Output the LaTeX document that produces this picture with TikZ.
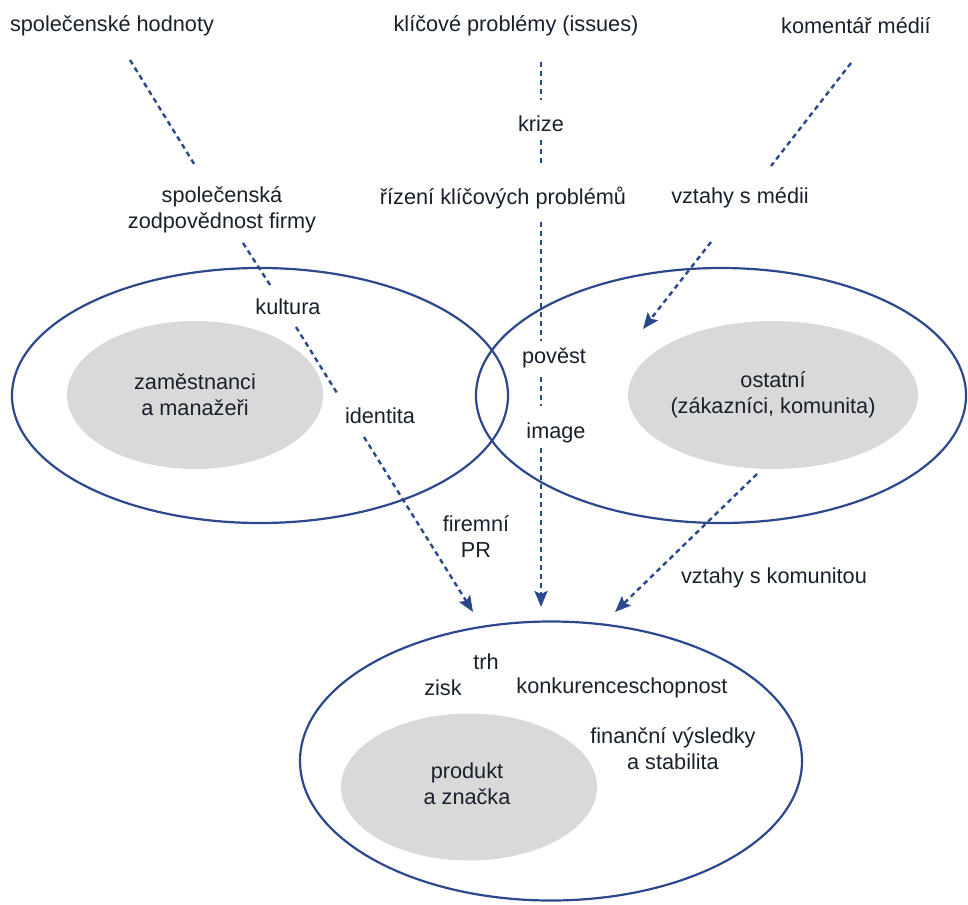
\documentclass[tikz,border=0pt]{standalone}
\usepackage{fontspec}
\setmainfont{Liberation Sans}
\usetikzlibrary{arrows.meta,shapes.geometric}
\definecolor{dblue}{RGB}{44,72,140}
\definecolor{lgray}{RGB}{217,217,217}
\definecolor{txt}{RGB}{24,32,44}
\tikzset{
  lbl/.style={text=txt,font=\fontsize{21.7}{26}\selectfont,align=center,inner sep=0pt},
  bigell/.style={ellipse,draw=dblue,line width=2.2pt,inner sep=0pt},
  grayell/.style={ellipse,fill=lgray,inner sep=0pt,text=txt,font=\fontsize{21.7}{26}\selectfont,align=center},
  dl/.style={draw=dblue,line width=2.4pt,dash pattern=on 5pt off 4pt},
  dla/.style={dl,-{Stealth[length=16pt,width=13pt,inset=3pt]}}
}
\begin{document}
\begin{tikzpicture}[x=1pt,y=-1pt]
\useasboundingbox (0,0) rectangle (968,904);
% big ellipses
\node[bigell,minimum width=496pt,minimum height=255pt] (L) at (260,395.5) {};
\node[bigell,minimum width=490pt,minimum height=255pt] (R) at (721,395.5) {};
\node[bigell,minimum width=502pt,minimum height=279pt] (B) at (551,761) {};
% gray ellipses
\node[grayell,minimum width=256pt,minimum height=148pt] (G1) at (195,395) {zaměstnanci\\a manažeři};
\node[grayell,minimum width=254pt,minimum height=148pt] (G2) at (773,395) {ostatní\\(zákazníci, komunita)};
\node[grayell,minimum width=256pt,minimum height=147pt] (G3) at (469,787) {};
\node[lbl] (prod) at (467,784) {produkt\\a značka};
% labels
\node[lbl] (hod) at (112,26) {společenské hodnoty};
\node[lbl] (iss) at (516,26) {klíčové problémy (issues)};
\node[lbl] (kom) at (856,26) {komentář médií};
\node[lbl] (kri) at (541,124) {krize};
\node[lbl] (csr) at (222,210) {společenská\\zodpovědnost firmy};
\node[lbl] (riz) at (503,198) {řízení klíčových problémů};
\node[lbl] (vsm) at (740,198) {vztahy s médii};
\node[lbl] (kul) at (288,307) {kultura};
\node[lbl] (pov) at (554,358) {pověst};
\node[lbl] (ide) at (380,416) {identita};
\node[lbl] (img) at (556,433) {image};
\node[lbl] (fpr) at (476,537) {firemní\\PR};
\node[lbl] (vsk) at (774,578) {vztahy s komunitou};
\node[lbl] (trh) at (486,662) {trh};
\node[lbl] (zis) at (443,688) {zisk};
\node[lbl] (kon) at (622,688) {konkurenceschopnost};
\node[lbl] (fin) at (673,749) {finanční výsledky\\a stabilita};
% left line
\coordinate (a1) at (130,60);  \coordinate (a2) at (196,167);
\coordinate (a3) at (243,243); \coordinate (a4) at (272,288);
\coordinate (a5) at (296,327); \coordinate (a6) at (337,393);
\coordinate (a7) at (364,437); \coordinate (a8) at (473,612);
\draw[dl] (a1) -- (a2);
\draw[dl] (a3) -- (a4);
\draw[dl] (a5) -- (a6);
\draw[dla] (a7) -- (a8);
% middle line
\coordinate (m1) at (541,62);  \coordinate (m2) at (541,100);
\coordinate (m3) at (541,140); \coordinate (m4) at (541,167);
\coordinate (m5) at (541,222); \coordinate (m6) at (541,341);
\coordinate (m7) at (541,377); \coordinate (m8) at (541,406);
\coordinate (m9) at (541,448); \coordinate (m10) at (541,607);
\draw[dl] (m1) -- (m2);
\draw[dl] (m3) -- (m4);
\draw[dl] (m5) -- (m6);
\draw[dl] (m7) -- (m8);
\draw[dla] (m9) -- (m10);
% right line
\coordinate (r1) at (851,63);  \coordinate (r2) at (771,166);
\coordinate (r3) at (711,242); \coordinate (r4) at (643,329);
\draw[dl] (r1) -- (r2);
\draw[dla] (r3) -- (r4);
% community line
\coordinate (c1) at (757,474); \coordinate (c2) at (615,612);
\draw[dla] (c1) -- (c2);
\end{tikzpicture}
\end{document}
